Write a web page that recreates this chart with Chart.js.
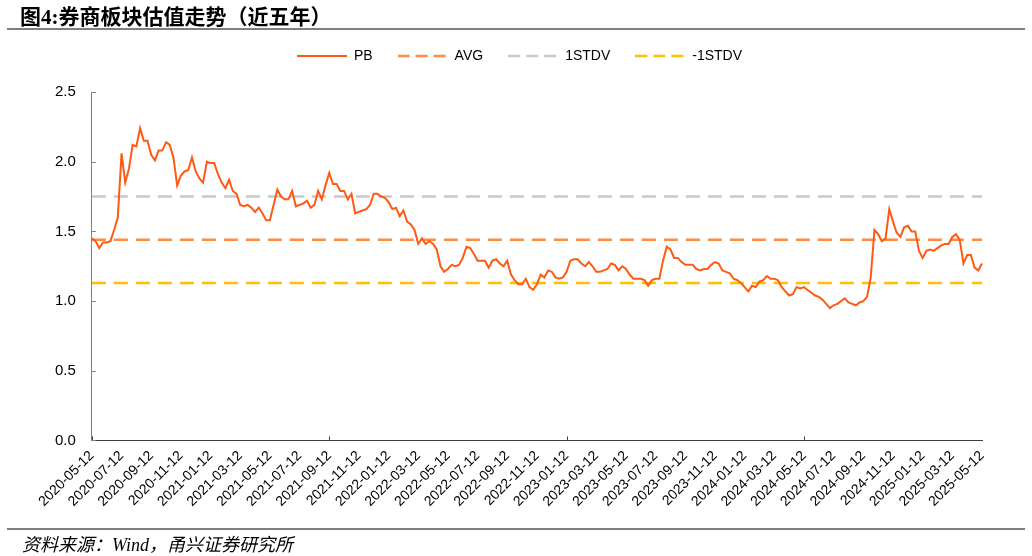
<!DOCTYPE html>
<html>
<head>
<meta charset="utf-8">
<script src="https://cdn.jsdelivr.net/npm/chart.js@4/dist/chart.umd.min.js"></script>
<style>
  body { margin: 0; background: #fff; }
  #wrap { position: relative; width: 1032px; height: 556px; overflow: hidden; }
  #box { position: absolute; left: 0; top: 0; width: 1032px; height: 556px; }
  .title { position: absolute; left: 20px; top: 0px; font: bold 21px "Liberation Serif", "Noto Sans CJK SC"; color: #000; white-space: nowrap; }
  .rule { position: absolute; left: 7px; width: 1018px; height: 2px; background: #7f7f7f; }
  .source { position: absolute; left: 22px; top: 530px; font: italic 18px "Liberation Serif", "Noto Sans CJK SC"; color: #000; white-space: nowrap; }
</style>
</head>
<body>
<div id="wrap">
  <div id="box"><canvas id="pbChart"></canvas></div>
  <div class="title">图4:券商板块估值走势（近五年）</div>
  <div class="rule" style="top:28px"></div>
  <div class="rule" style="top:528px"></div>
  <div class="source">资料来源：Wind，甬兴证券研究所</div>
</div>
<script>
// tick labels every two months, 8 readings between two ticks
const tickLabels = ['2020-05-12', '2020-07-12', '2020-09-12', '2020-11-12', '2021-01-12', '2021-03-12',
    '2021-05-12', '2021-07-12', '2021-09-12', '2021-11-12', '2022-01-12', '2022-03-12', '2022-05-12',
    '2022-07-12', '2022-09-12', '2022-11-12', '2023-01-12', '2023-03-12', '2023-05-12', '2023-07-12',
    '2023-09-12', '2023-11-12', '2024-01-12', '2024-03-12', '2024-05-12', '2024-07-12', '2024-09-12',
    '2024-11-12', '2025-01-12', '2025-03-12', '2025-05-12'];
const perTick = 8;

const pb = [
    1.45, 1.43, 1.38, 1.42, 1.42, 1.43, 1.51, 1.60,
    2.06, 1.85, 1.95, 2.12, 2.11, 2.24, 2.15, 2.15,
    2.05, 2.01, 2.08, 2.08, 2.14, 2.12, 2.03, 1.83,
    1.90, 1.93, 1.94, 2.03, 1.93, 1.88, 1.85, 2.00,
    1.99, 1.99, 1.91, 1.85, 1.81, 1.87, 1.79, 1.77,
    1.69, 1.68, 1.69, 1.67, 1.64, 1.67, 1.63, 1.58,
    1.58, 1.69, 1.80, 1.75, 1.73, 1.73, 1.79, 1.68,
    1.69, 1.70, 1.72, 1.67, 1.69, 1.79, 1.73, 1.83,
    1.92, 1.84, 1.84, 1.79, 1.79, 1.73, 1.77, 1.63,
    1.64, 1.65, 1.66, 1.69, 1.77, 1.77, 1.75, 1.74,
    1.71, 1.66, 1.67, 1.61, 1.65, 1.57, 1.55, 1.51,
    1.41, 1.45, 1.41, 1.43, 1.41, 1.37, 1.25, 1.21,
    1.23, 1.26, 1.25, 1.26, 1.31, 1.39, 1.38, 1.34,
    1.29, 1.29, 1.29, 1.24, 1.29, 1.30, 1.27, 1.25,
    1.29, 1.19, 1.15, 1.12, 1.12, 1.16, 1.10, 1.08,
    1.12, 1.19, 1.17, 1.22, 1.21, 1.17, 1.16, 1.17,
    1.21, 1.29, 1.30, 1.30, 1.27, 1.25, 1.28, 1.25,
    1.21, 1.21, 1.22, 1.23, 1.27, 1.26, 1.22, 1.25,
    1.23, 1.19, 1.16, 1.16, 1.16, 1.15, 1.11, 1.15,
    1.16, 1.16, 1.29, 1.39, 1.37, 1.31, 1.31, 1.28,
    1.26, 1.26, 1.26, 1.23, 1.22, 1.23, 1.23, 1.26,
    1.28, 1.27, 1.22, 1.21, 1.20, 1.16, 1.15, 1.13,
    1.10, 1.07, 1.11, 1.10, 1.14, 1.15, 1.18, 1.16,
    1.16, 1.15, 1.10, 1.07, 1.04, 1.05, 1.10, 1.09,
    1.10, 1.08, 1.06, 1.04, 1.03, 1.01, 0.98, 0.95,
    0.97, 0.98, 1.00, 1.02, 0.99, 0.98, 0.97, 0.99,
    1.00, 1.03, 1.17, 1.51, 1.48, 1.43, 1.45, 1.66,
    1.57, 1.49, 1.46, 1.53, 1.54, 1.50, 1.50, 1.36,
    1.31, 1.36, 1.37, 1.36, 1.38, 1.40, 1.41, 1.41,
    1.46, 1.48, 1.44, 1.27, 1.33, 1.33, 1.24, 1.22,
    1.27
];
const avgValue = 1.44;
const plusStd = 1.75;
const minusStd = 1.13;
const yTicks = [0, 0.5, 1.0, 1.5, 2.0, 2.5];

// dates between two tick labels, for the category axis
const categories = [];
tickLabels.forEach((t, k) => {
    if (k === tickLabels.length - 1) { categories.push(t); return; }
    const a = Date.parse(t + 'T00:00:00Z');
    const b = Date.parse(tickLabels[k + 1] + 'T00:00:00Z');
    for (let j = 0; j < perTick; j++) {
        categories.push(j === 0 ? t : new Date(a + (b - a) * j / perTick).toISOString().slice(0, 10));
    }
});
const flat = v => categories.map(() => v);

// legend sample: a 50px line, dashed when needed
function legendLine(color, width, dash) {
    const c = document.createElement('canvas');
    c.width = 50;
    c.height = 6;
    const g = c.getContext('2d');
    g.strokeStyle = color;
    g.lineWidth = width;
    g.setLineDash(dash);
    g.beginPath();
    g.moveTo(0, 3);
    g.lineTo(50, 3);
    g.stroke();
    return c;
}

// small inward tick marks, like the original
const innerTicks = {
    id: 'innerTicks',
    afterDatasetsDraw(chart) {
        const { ctx, chartArea, scales } = chart;
        ctx.save();
        ctx.lineWidth = 1;
        ctx.strokeStyle = '#404040';
        scales.x.ticks.forEach((t, i) => {
            if (i % perTick !== 0) return;
            const x = Math.round(scales.x.getPixelForTick(i)) + 0.5;
            ctx.beginPath();
            ctx.moveTo(x, chartArea.bottom);
            ctx.lineTo(x, chartArea.bottom - 4);
            ctx.stroke();
        });
        ctx.strokeStyle = '#808080';
        yTicks.forEach(v => {
            const y = Math.round(scales.y.getPixelForValue(v)) + 0.5;
            ctx.beginPath();
            ctx.moveTo(chartArea.left, y);
            ctx.lineTo(chartArea.left + 4, y);
            ctx.stroke();
        });
        ctx.restore();
    }
};

// more room under the legend, and nudge it right a little
const legendGap = {
    id: 'legendGap',
    beforeLayout(chart) {
        const lg = chart.legend;
        if (!lg || lg._gapDone) return;
        const fit = lg.fit;
        lg.fit = function () {
            fit.call(this);
            this.height += 19;
        };
        lg._gapDone = true;
    },
    afterLayout(chart) {
        chart.legend.left += 9;
        chart.legend.right += 9;
    }
};

Chart.defaults.font.family = '"Liberation Sans", Arial, sans-serif';
Chart.defaults.color = '#000';

new Chart(document.getElementById('pbChart'), {
    type: 'line',
    data: {
        labels: categories,
        datasets: [
            { label: 'PB', data: pb, borderColor: '#FF5A14', borderWidth: 2,
              pointStyle: legendLine('#FF5A14', 2, []) },
            { label: 'AVG', data: flat(avgValue), borderColor: '#FF8C42', borderWidth: 2.5, borderDash: [14, 8],
              pointStyle: legendLine('#FF8C42', 2.5, [12, 6]) },
            { label: '1STDV', data: flat(plusStd), borderColor: '#C9C9C9', borderWidth: 2.5, borderDash: [14, 8],
              pointStyle: legendLine('#C9C9C9', 2.5, [12, 6]) },
            { label: '-1STDV', data: flat(minusStd), borderColor: '#FFC000', borderWidth: 2.5, borderDash: [14, 8],
              pointStyle: legendLine('#FFC000', 2.5, [12, 6]) }
        ]
    },
    options: {
        responsive: true,
        maintainAspectRatio: false,
        animation: false,
        elements: { point: { radius: 0 }, line: { tension: 0, borderCapStyle: 'butt' } },
        layout: { padding: { left: 39, right: 50, top: 24, bottom: 39 } },
        plugins: {
            tooltip: { enabled: false },
            legend: {
                position: 'top',
                labels: {
                    usePointStyle: true,
                    pointStyleWidth: 50,
                    boxHeight: 14,
                    padding: 25,
                    font: { size: 14 },
                    color: '#000'
                }
            }
        },
        scales: {
            x: {
                grid: { display: false, drawTicks: false },
                border: { display: true, color: '#404040', width: 1 },
                ticks: {
                    autoSkip: false,
                    minRotation: 45,
                    maxRotation: 45,
                    padding: 7,
                    font: { size: 14 },
                    callback: (v, i) => (i % perTick === 0 ? categories[i] : null)
                }
            },
            y: {
                min: 0,
                max: 2.5,
                grid: { display: false, drawTicks: false },
                border: { display: true, color: '#808080', width: 1 },
                ticks: {
                    stepSize: 0.5,
                    padding: 16,
                    font: { size: 15 },
                    callback: v => v.toFixed(1)
                }
            }
        }
    },
    plugins: [innerTicks, legendGap]
});
</script>
</body>
</html>
